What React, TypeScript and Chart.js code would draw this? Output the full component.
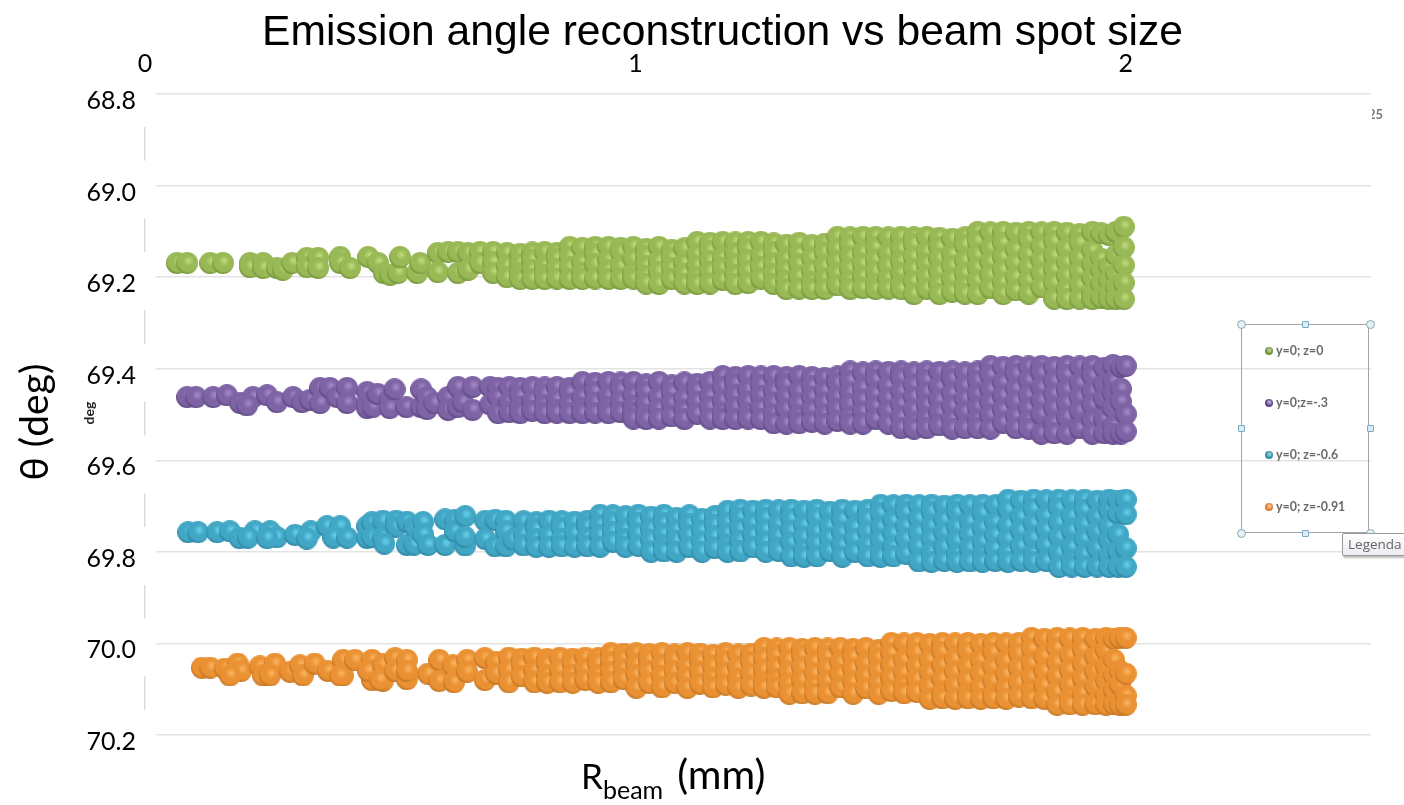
import React, { useEffect, useRef } from "react";
import { Chart, registerables } from "chart.js";

Chart.register(...registerables);

const titleText = "Emission angle reconstruction vs beam spot size";
const xTicks = [0, 1, 2];
const yTicks = [68.8, 69.0, 69.2, 69.4, 69.6, 69.8, 70.0, 70.2];
const legendNames = ["y=0; z=0", "y=0;z=-.3", "y=0; z=-0.6", "y=0; z=-0.91"];

const greenR = [.065,.086,.133,.159,.214,.241,.269,.281,.300,.330,.353,.398,.418,.455,.475,.487,.500,.516,.520,.555,.561,.597,.618,.638,.659,.683,.710,.738,.765,.790,.815,.840,.866,.892,.918,.945,.970,.996,1.022,1.048,1.074,1.100,1.126,1.152,1.178,1.204,1.230,1.256,1.282,1.308,1.334,1.360,1.386,1.412,1.438,1.464,1.490,1.516,1.542,1.568,1.594,1.620,1.646,1.672,1.698,1.724,1.750,1.776,1.802,1.828,1.854,1.880,1.906,1.932,1.950,1.966,1.980,1.996];
const greenTheta = [[69.169],[69.169],[69.169],[69.169],[69.169,69.178],[69.169,69.180],[69.180],[69.184],[69.169],[69.158,69.178],[69.158,69.180],[69.156,69.169],[69.180],[69.156],[69.169],[69.191],[69.195],[69.191],[69.156],[69.191],[69.169],[69.147,69.189],[69.145],[69.145,69.191],[69.147,69.184],[69.145,69.169],[69.145,69.167,69.191],[69.147,69.176,69.200],[69.149,69.171,69.191,69.204],[69.146,69.162,69.184,69.204],[69.145,69.176,69.195,69.204],[69.147,69.160,69.182,69.203],[69.134,69.155,69.178,69.204],[69.136,69.168,69.190,69.204],[69.134,69.150,69.172,69.203],[69.134,69.163,69.185,69.204],[69.136,69.146,69.177,69.204],[69.134,69.160,69.191,69.203],[69.138,69.154,69.175,69.197,69.214],[69.134,69.166,69.188,69.215],[69.140,69.158,69.180,69.204],[69.137,69.170,69.193,69.214],[69.123,69.151,69.175,69.200,69.215],[69.125,69.142,69.165,69.188,69.214],[69.123,69.158,69.180,69.206],[69.124,69.148,69.171,69.195,69.215],[69.123,69.139,69.163,69.186,69.213],[69.123,69.155,69.178,69.203],[69.126,69.146,69.170,69.193,69.215],[69.129,69.160,69.184,69.208,69.226],[69.125,69.149,69.172,69.198,69.225],[69.130,69.158,69.186,69.211,69.226],[69.127,69.146,69.176,69.203,69.226],[69.112,69.138,69.165,69.192,69.218],[69.113,69.130,69.155,69.182,69.208,69.226],[69.112,69.146,69.172,69.198,69.224],[69.112,69.135,69.162,69.188,69.214,69.226],[69.113,69.148,69.176,69.204,69.225],[69.112,69.139,69.166,69.192,69.218,69.226],[69.113,69.128,69.156,69.183,69.210,69.237],[69.112,69.145,69.171,69.198,69.225],[69.114,69.134,69.160,69.188,69.215,69.237],[69.116,69.150,69.176,69.204,69.232],[69.113,69.130,69.164,69.192,69.220,69.236],[69.101,69.121,69.152,69.180,69.208,69.237],[69.102,69.137,69.167,69.196,69.224],[69.101,69.125,69.156,69.185,69.212,69.237],[69.103,69.140,69.170,69.200,69.229],[69.101,69.118,69.150,69.178,69.207,69.236],[69.102,69.133,69.163,69.192,69.222],[69.101,69.122,69.154,69.184,69.212,69.247],[69.103,69.138,69.168,69.197,69.228,69.248],[69.106,69.125,69.158,69.188,69.218,69.247],[69.101,69.142,69.172,69.202,69.234,69.248],[69.104,69.160,69.186,69.214,69.245],[69.108,69.177,69.207,69.236,69.248],[69.101,69.152,69.192,69.222,69.247],[69.090,69.135,69.174,69.212,69.248],[69.090,69.128,69.162,69.200,69.236],[69.090,69.140,69.188,69.226,69.248],[69.090,69.120,69.150,69.172,69.248],[69.097,69.206,69.248]];

const purpleR = [.086,.104,.139,.167,.194,.220,.208,.249,.269,.302,.320,.337,.357,.377,.392,.412,.453,.464,.474,.499,.509,.533,.563,.575,.590,.618,.638,.648,.668,.704,.720,.743,.765,.790,.815,.840,.866,.892,.918,.945,.970,.996,1.022,1.048,1.074,1.100,1.126,1.152,1.178,1.204,1.230,1.256,1.282,1.308,1.334,1.360,1.386,1.412,1.438,1.464,1.490,1.516,1.542,1.568,1.594,1.620,1.646,1.672,1.698,1.724,1.750,1.776,1.802,1.828,1.854,1.880,1.906,1.932,1.956,1.974,1.990,2.000];
const purpleTheta = [[69.462],[69.462],[69.462],[69.458],[69.475],[69.462],[69.480],[69.458],[69.473],[69.462],[69.473],[69.468],[69.442,69.475],[69.442],[69.462],[69.442,69.475],[69.451,69.475,69.486],[69.484],[69.455],[69.467,69.486],[69.445],[69.484],[69.445,69.484],[69.462,69.488],[69.475],[69.462,69.490],[69.440,69.484],[69.473],[69.440,69.490],[69.440,69.478],[69.442,69.462,69.497],[69.440,69.473,69.495],[69.442,69.460,69.484,69.497],[69.440,69.470,69.492],[69.441,69.456,69.480,69.497],[69.440,69.468,69.490,69.496],[69.442,69.452,69.478,69.497],[69.429,69.462,69.486,69.497],[69.431,69.450,69.474,69.496],[69.429,69.460,69.484,69.497],[69.430,69.446,69.472,69.495],[69.429,69.458,69.482,69.497,69.509],[69.434,69.450,69.476,69.500,69.510],[69.429,69.462,69.488,69.509],[69.436,69.452,69.476,69.504],[69.430,69.465,69.490,69.510],[69.433,69.448,69.472,69.498],[69.429,69.460,69.484,69.509],[69.416,69.440,69.470,69.496,69.510],[69.418,69.432,69.458,69.484,69.510],[69.416,69.446,69.472,69.498,69.509],[69.417,69.436,69.460,69.486,69.510],[69.416,69.448,69.474,69.500,69.519],[69.418,69.434,69.462,69.488,69.520],[69.416,69.450,69.476,69.504,69.519],[69.418,69.438,69.462,69.490,69.516],[69.420,69.448,69.474,69.500,69.520],[69.417,69.432,69.462,69.488,69.514],[69.406,69.426,69.452,69.478,69.506,69.520],[69.408,69.442,69.468,69.494,69.520],[69.406,69.424,69.456,69.482,69.510],[69.407,69.438,69.464,69.492,69.520],[69.406,69.420,69.450,69.478,69.506,69.530],[69.408,69.436,69.462,69.490,69.518,69.531],[69.406,69.424,69.452,69.480,69.508,69.530],[69.407,69.440,69.468,69.496,69.524],[69.406,69.422,69.454,69.482,69.512,69.531],[69.408,69.438,69.466,69.494,69.530],[69.406,69.426,69.456,69.484,69.512,69.530],[69.394,69.414,69.446,69.474,69.502,69.531],[69.396,69.430,69.460,69.490,69.518],[69.394,69.412,69.444,69.472,69.504,69.530],[69.395,69.426,69.458,69.486,69.514,69.531],[69.394,69.410,69.442,69.470,69.500,69.542],[69.396,69.428,69.456,69.486,69.520,69.541],[69.394,69.414,69.446,69.476,69.506,69.542],[69.395,69.432,69.462,69.492,69.530],[69.394,69.416,69.450,69.480,69.514,69.542],[69.398,69.436,69.466,69.510,69.541],[69.392,69.428,69.455,69.486,69.526,69.542],[69.396,69.444,69.472,69.542],[69.394,69.499,69.537]];

const tealR = [.088,.108,.147,.173,.193,.224,.210,.255,.269,.249,.306,.338,.330,.371,.398,.384,.412,.453,.463,.485,.512,.488,.534,.549,.567,.577,.612,.632,.653,.652,.694,.714,.736,.750,.772,.798,.824,.850,.876,.902,.928,.954,.980,1.006,1.032,1.058,1.084,1.110,1.136,1.162,1.188,1.214,1.240,1.266,1.292,1.318,1.344,1.370,1.396,1.422,1.448,1.474,1.500,1.526,1.552,1.578,1.604,1.630,1.656,1.682,1.708,1.734,1.760,1.786,1.812,1.838,1.864,1.890,1.916,1.942,1.966,1.984,2.000];
const tealTheta = [[69.757],[69.757],[69.757],[69.755],[69.770],[69.755],[69.769],[69.755],[69.768],[69.770],[69.763],[69.755],[69.771],[69.744],[69.744],[69.769],[69.769],[69.744,69.770],[69.735,69.768],[69.732,69.768],[69.732,69.745],[69.782],[69.734,69.785],[69.745,69.784],[69.735,69.762],[69.785],[69.729,69.785],[69.730,69.755],[69.722,69.786],[69.767],[69.732,69.772],[69.730,69.788],[69.732,69.755,69.788],[69.773],[69.733,69.762,69.786],[69.735,69.750,69.772,69.789],[69.732,69.765,69.789],[69.733,69.748,69.772,69.788],[69.734,69.760,69.789],[69.732,69.745,69.770,69.788],[69.719,69.742,69.764,69.789],[69.720,69.735,69.756,69.778],[69.722,69.750,69.772,69.789],[69.719,69.736,69.760,69.787],[69.723,69.750,69.774,69.800],[69.719,69.738,69.762,69.786,69.799],[69.726,69.752,69.776,69.800],[69.720,69.740,69.764,69.790],[69.728,69.754,69.778,69.800],[69.722,69.742,69.766,69.792],[69.710,69.736,69.760,69.786,69.800],[69.708,69.725,69.750,69.776,69.799],[69.710,69.738,69.764,69.790],[69.708,69.726,69.752,69.778,69.800],[69.709,69.740,69.766,69.792,69.798],[69.708,69.728,69.754,69.780,69.810],[69.710,69.742,69.768,69.796,69.811],[69.708,69.725,69.756,69.782,69.810],[69.712,69.744,69.770,69.798],[69.708,69.730,69.758,69.786,69.811],[69.710,69.746,69.772,69.800],[69.708,69.728,69.756,69.786,69.810],[69.697,69.716,69.746,69.774,69.802,69.811],[69.698,69.732,69.760,69.790,69.810],[69.697,69.714,69.744,69.772,69.804],[69.698,69.728,69.758,69.788,69.821],[69.697,69.712,69.744,69.772,69.802,69.822],[69.699,69.730,69.758,69.790,69.820],[69.697,69.714,69.746,69.776,69.806,69.822],[69.698,69.734,69.762,69.792,69.821],[69.697,69.716,69.748,69.778,69.808,69.822],[69.698,69.736,69.764,69.794,69.820],[69.686,69.708,69.742,69.772,69.802,69.822],[69.688,69.724,69.754,69.788,69.820],[69.686,69.706,69.738,69.770,69.804,69.822],[69.687,69.722,69.752,69.786,69.820],[69.686,69.704,69.736,69.768,69.802,69.833],[69.687,69.722,69.754,69.790,69.820,69.832],[69.686,69.708,69.740,69.772,69.806,69.833],[69.688,69.724,69.756,69.792,69.832],[69.686,69.710,69.744,69.776,69.810,69.833],[69.688,69.716,69.762,69.800,69.832],[69.686,69.718,69.792,69.833]];

const orangeR = [.116,.133,.163,.189,.196,.173,.234,.265,.241,.255,.296,.316,.322,.346,.373,.404,.398,.428,.463,.455,.485,.479,.510,.534,.534,.577,.600,.628,.630,.657,.693,.716,.742,.768,.794,.820,.846,.872,.898,.924,.950,.976,1.002,1.028,1.054,1.080,1.106,1.132,1.158,1.184,1.210,1.236,1.262,1.288,1.314,1.340,1.366,1.392,1.418,1.444,1.470,1.496,1.522,1.548,1.574,1.600,1.626,1.652,1.678,1.704,1.730,1.756,1.782,1.808,1.834,1.860,1.886,1.912,1.938,1.960,1.976,1.988,2.000];
const orangeTheta = [[70.053],[70.053],[70.055],[70.044],[70.060],[70.070],[70.050],[70.044],[70.070],[70.070],[70.062],[70.048],[70.070],[70.044],[70.060],[70.036,70.070],[70.070],[70.036],[70.036,70.080],[70.060],[70.046,70.082],[70.080],[70.032,70.060],[70.036,70.078],[70.060],[70.066],[70.036,70.082],[70.048],[70.085],[70.036,70.062],[70.032,70.080],[70.040,70.066],[70.031,70.058,70.085],[70.033,70.048,70.072],[70.031,70.060,70.085],[70.034,70.046,70.070,70.086],[70.031,70.058,70.085],[70.033,70.044,70.068,70.086],[70.031,70.056,70.080],[70.032,70.044,70.070,70.086],[70.021,70.040,70.062,70.085],[70.022,70.034,70.056,70.078],[70.021,70.046,70.068,70.097],[70.023,70.036,70.060,70.086],[70.021,70.048,70.072,70.096],[70.024,70.036,70.060,70.086],[70.021,70.050,70.074,70.097],[70.022,70.038,70.062,70.088],[70.025,70.050,70.076,70.096],[70.021,70.038,70.064,70.090],[70.024,70.052,70.078,70.097],[70.022,70.040,70.066,70.092],[70.010,70.032,70.058,70.084,70.097],[70.011,70.026,70.052,70.078,70.096],[70.010,70.036,70.062,70.088,70.110],[70.012,70.026,70.052,70.080,70.109],[70.010,70.040,70.066,70.092,70.110],[70.011,70.028,70.054,70.082,70.109],[70.010,70.042,70.068,70.096],[70.012,70.030,70.056,70.084,70.110],[70.010,70.044,70.072,70.098],[70.014,70.032,70.058,70.086,70.110],[69.999,70.022,70.048,70.076,70.104],[70.000,70.036,70.064,70.092,70.109],[69.999,70.020,70.050,70.078,70.106],[70.001,70.036,70.064,70.094,70.121],[69.999,70.018,70.048,70.078,70.108,70.120],[70.000,70.034,70.062,70.092,70.121],[69.999,70.018,70.050,70.080,70.110,70.120],[70.001,70.036,70.066,70.096,70.121],[69.999,70.020,70.052,70.082,70.112,70.120],[70.000,70.038,70.068,70.098,70.121],[69.999,70.022,70.054,70.086,70.116],[69.988,70.012,70.044,70.074,70.104,70.120],[69.990,70.028,70.060,70.092,70.121],[69.988,70.010,70.042,70.072,70.106,70.134],[69.989,70.026,70.058,70.090,70.120,70.133],[69.988,70.012,70.044,70.076,70.110,70.134],[69.990,70.030,70.062,70.094,70.133],[69.988,70.016,70.052,70.082,70.114,70.134],[69.990,70.036,70.070,70.102,70.133],[69.988,70.060,70.090,70.134],[69.988,70.066,70.114,70.134],[69.994,70.084,70.134]];

const seriesStyles = [
  { hi: "#c2dd7c", mid: "#98b955", lo: "#64842f" },
  { hi: "#a68ccd", mid: "#7e63a5", lo: "#4f3a75" },
  { hi: "#66d3ee", mid: "#42a6c5", lo: "#237593" },
  { hi: "#fdb562", mid: "#ea9233", lo: "#b0631a" },
];
const legendDots = ["#6f9230", "#5b4188", "#2a8ca8", "#dd7a2c"];

function sphere(c: { hi: string; mid: string; lo: string }, d: number) {
  const cv = document.createElement("canvas");
  cv.width = d;
  cv.height = d;
  const g = cv.getContext("2d")!;
  const r = d / 2;
  const cx = r * 1.12;
  const cy = r * 0.8;
  const grad = g.createRadialGradient(cx, cy, 0, cx, cy, r * 1.32);
  grad.addColorStop(0, c.hi);
  grad.addColorStop(0.38, c.mid);
  grad.addColorStop(0.72, c.mid);
  grad.addColorStop(1, c.lo);
  g.fillStyle = grad;
  g.beginPath();
  g.arc(r, r, r, 0, Math.PI * 2);
  g.fill();
  return cv;
}

const columns = (rs: number[], ts: number[][]) =>
  rs.flatMap((x, i) => ts[i].map((y) => ({ x, y })));

const abs = (o: React.CSSProperties): React.CSSProperties => ({ position: "absolute", whiteSpace: "nowrap", ...o });

function Handle({ x, y, round }: { x: number; y: number; round?: boolean }) {
  const s = round ? 9 : 7;
  return (
    <div style={abs({ left: x - s / 2, top: y - s / 2, width: s, height: s, boxSizing: "border-box", borderRadius: round ? "50%" : 1,
      background: round ? "#e2f1f4" : "#d8edf8", border: `1px solid ${round ? "#8aa9b3" : "#7fa8c4"}` })} />
  );
}

export default function App() {
  const ref = useRef<HTMLCanvasElement>(null);
  useEffect(() => {
    const maskPlugin = {
      id: "axisMasks",
      beforeDatasetsDraw(chart: any) {
        const { ctx, scales, chartArea } = chart;
        ctx.save();
        ctx.fillStyle = "#ffffff";
        yTicks.forEach((t) => {
          const p = scales.y.getPixelForValue(t);
          const top = Math.max(p - 25, chartArea.top - 1);
          ctx.fillRect(scales.x.left - 3, top, 14, p + 33 - top);
        });
        ctx.restore();
      },
    };
    const sets: [number[], number[][]][] = [[greenR, greenTheta], [purpleR, purpleTheta], [tealR, tealTheta], [orangeR, orangeTheta]];
    const chart = new Chart(ref.current!, {
      type: "scatter",
      data: {
        datasets: sets.map(([r, t], i) => ({
          label: legendNames[i],
          data: columns(r, t),
          pointStyle: sphere(seriesStyles[i], 22) as any,
          pointRadius: 11,
          pointBackgroundColor: seriesStyles[i].mid,
          borderColor: seriesStyles[i].mid,
          backgroundColor: seriesStyles[i].mid,
        })),
      },
      options: {
        animation: false,
        responsive: false,
        layout: { padding: { left: 0, top: 0, right: 33, bottom: 70 } },
        plugins: { legend: { display: false }, tooltip: { enabled: false }, title: { display: false } },
        scales: {
          x: {
            type: "linear",
            position: "top",
            min: 0,
            max: 2.5,
            afterBuildTicks: (s: any) => { s.ticks = xTicks.map((value) => ({ value })); },
            afterFit: (s: any) => { s.height = 94; },
            grid: { display: false },
            border: { display: false },
            ticks: { color: "#000", font: { family: "Lato", size: 25 }, padding: 7, maxRotation: 0, callback: (v: any) => String(v) },
          },
          y: {
            type: "linear",
            reverse: true,
            min: 68.8,
            max: 70.2,
            afterBuildTicks: (s: any) => { s.ticks = yTicks.map((value) => ({ value })); },
            afterFit: (s: any) => { s.width = 145; },
            grid: { color: "#e3e3e3", lineWidth: 1.4, drawTicks: false },
            border: { color: "#d9d9d9", width: 1.4 },
            ticks: { color: "#000", font: { family: "Lato", size: 25 }, padding: 9, labelOffset: 7, callback: (v: any) => Number(v).toFixed(1) },
          },
        },
      },
      plugins: [maskPlugin],
    } as any);
    return () => chart.destroy();
  }, []);

  const rowY = [351, 403, 455, 507];
  return (
    <div style={{ position: "fixed", left: 0, top: 0, width: 1404, height: 805, overflow: "hidden", background: "#fff" }}>
      <canvas ref={ref} width={1404} height={805} style={{ position: "absolute", left: 0, top: 0, width: 1404, height: 805 }} />
      <div style={abs({ left: 262, top: 5, fontFamily: "Liberation Sans", fontSize: 42.6, lineHeight: "50px", color: "#000" })}>{titleText}</div>
      <div style={abs({ left: 33, top: 422, transform: "translate(-50%,-50%) rotate(-90deg)", fontFamily: "Lato", fontSize: 39, lineHeight: "44px", color: "#000" })}>θ (deg)</div>
      <div style={abs({ left: 88, top: 413, transform: "translate(-50%,-50%) rotate(-90deg)", fontFamily: "Lato", fontWeight: 700, fontSize: 14, color: "#222" })}>deg</div>
      <div style={abs({ left: 581, top: 752, fontFamily: "Lato", fontSize: 35, lineHeight: "44px", color: "#000" })}>
        R<span style={{ fontSize: 25, position: "relative", top: 10 }}>beam</span>
        <span style={{ fontSize: 41, marginLeft: 14 }}>(mm)</span>
      </div>
      <div style={abs({ left: 1372, top: 106, width: 11, overflow: "hidden", direction: "rtl", fontFamily: "Lato", fontWeight: 700, fontSize: 13, color: "#777" })}>25</div>
      <div style={abs({ left: 1241, top: 324, width: 128, height: 209, boxSizing: "border-box", border: "1px solid #a4a4a4" })} />
      <Handle x={1241} y={324} round /><Handle x={1370} y={324} round /><Handle x={1241} y={533} round /><Handle x={1370} y={533} round />
      <Handle x={1305} y={324} /><Handle x={1305} y={533} /><Handle x={1241} y={428} /><Handle x={1370} y={428} />
      {legendNames.map((n, i) => (
        <React.Fragment key={n}>
          <div style={abs({ left: 1265, top: rowY[i] - 4, width: 8, height: 8, borderRadius: "50%", background: `radial-gradient(circle at 55% 40%, #ffffffaa 0, ${legendDots[i]} 55%)`, backgroundColor: legendDots[i] })} />
          <div style={abs({ left: 1276, top: rowY[i] - 8, fontFamily: "Lato", fontWeight: 700, fontSize: 12.4, lineHeight: "16px", color: "#6a6a6a" })}>{n}</div>
        </React.Fragment>
      ))}
      <div style={abs({ left: 1342, top: 533, width: 70, height: 23, boxSizing: "border-box", background: "linear-gradient(#ffffff,#ececf2)", border: "1px solid #9a9a9a", borderRadius: 2, boxShadow: "1px 2px 2px #bbb", paddingLeft: 5, fontFamily: "Open Sans", fontSize: 13.5, lineHeight: "21px", color: "#666" })}>Legenda</div>
    </div>
  );
}
